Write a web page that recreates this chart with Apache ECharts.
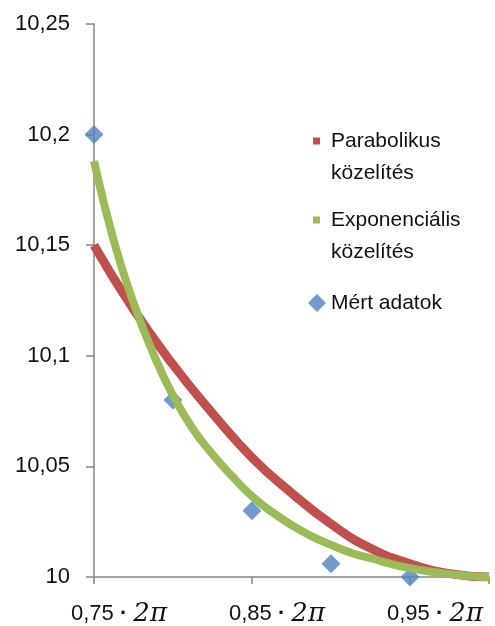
<!DOCTYPE html>
<html>
<head>
<meta charset="utf-8">
<title>Parabolikus és exponenciális közelítés</title>
<script src="https://cdn.jsdelivr.net/npm/echarts@6/dist/echarts.min.js"></script>
<style>
  html, body { margin: 0; padding: 0; background: #fff; }
  #chart { width: 495px; height: 626px; }
</style>
</head>
<body>
<div id="chart"></div>
<script>
// x értékek (a 2π szorzója)
var parabX = [0.75, 0.775, 0.8, 0.825, 0.85, 0.875, 0.9, 0.925, 0.95, 0.975, 1.0];
var parabY = [10.150, 10.121, 10.096, 10.074, 10.054, 10.038, 10.024, 10.013, 10.006, 10.0015, 10.0];

var expX = [0.75, 0.7625, 0.775, 0.7875, 0.8, 0.8125, 0.825, 0.8375, 0.85, 0.8625, 0.875,
            0.8875, 0.9, 0.9125, 0.925, 0.9375, 0.95, 0.9625, 0.975, 0.9875, 1.0];
var expY = [10.188, 10.152, 10.124, 10.101, 10.082, 10.067, 10.0555, 10.0455, 10.0365, 10.0295, 10.0235,
            10.0185, 10.0145, 10.011, 10.0085, 10.006, 10.004, 10.0025, 10.0013, 10.0005, 10.0];

var mertX = [0.75, 0.8, 0.85, 0.9, 0.95];
var mertY = [10.2, 10.08, 10.03, 10.006, 10.0];

var xTicks = [0.75, 0.85, 0.95];
var xTickLabels = ["0,75", "0,85", "0,95"];

var nevParab = "Parabolikus\nközelítés";
var nevExp = "Exponenciális\nközelítés";
var nevMert = "Mért adatok";

function pairs(xs, ys) {
  return xs.map(function (x, i) { return [x, ys[i]]; });
}

var font = "Liberation Sans";
var axisColor = "#868686";

// az első (üres) sor miatt a jelölő a szöveg első sorához igazodik
var legendText = { fontFamily: font, fontSize: 21, color: "#111", lineHeight: 32, padding: [0, 0, 0, 6] };

var chart = echarts.init(document.getElementById("chart"));
chart.setOption({
  animation: false,
  color: ["#C0504D", "#9BBB59", "#4F81BD"],
  grid: { left: 94, right: 6, top: 24, bottom: 49, containLabel: false, outerBoundsMode: "none" },
  legend: [
    {
      data: [{ name: nevParab, icon: "rect" }],
      left: 313, top: 93, padding: 0,
      itemWidth: 7, itemHeight: 7,
      selectedMode: false,
      formatter: function (name) { return " \n" + name; },
      textStyle: legendText
    },
    {
      data: [{ name: nevExp, icon: "rect" }],
      left: 313, top: 172, padding: 0,
      itemWidth: 7, itemHeight: 7,
      selectedMode: false,
      formatter: function (name) { return " \n" + name; },
      textStyle: legendText
    },
    {
      data: [{ name: nevMert, icon: "diamond" }],
      left: 308, top: 287, padding: 0,
      itemWidth: 18, itemHeight: 18,
      selectedMode: false,
      textStyle: { fontFamily: font, fontSize: 21, color: "#111", lineHeight: 32 }
    }
  ],
  xAxis: {
    type: "value",
    min: 0.75,
    max: 1.0,
    interval: 0.1,
    splitLine: { show: false },
    axisLine: { lineStyle: { color: axisColor, width: 1.5 } },
    axisTick: { length: 7, lineStyle: { color: axisColor, width: 1.5 } },
    axisLabel: {
      margin: 24,
      color: "#111",
      padding: [0, 0, 0, 50],
      formatter: function (v) {
        for (var i = 0; i < xTicks.length; i++) {
          if (Math.abs(v - xTicks[i]) < 1e-6) {
            return "{n|" + xTickLabels[i] + "}{d| · }{m|2π}";
          }
        }
        return "";
      },
      rich: {
        n: { fontFamily: font, fontSize: 22, color: "#111" },
        d: { fontFamily: font, fontSize: 22, color: "#111", fontWeight: "bold" },
        m: { fontFamily: "DejaVu Serif", fontStyle: "italic", fontSize: 26, color: "#111" }
      }
    }
  },
  yAxis: {
    type: "value",
    min: 10,
    max: 10.25,
    interval: 0.05,
    splitLine: { show: false },
    axisLine: { show: true, lineStyle: { color: axisColor, width: 1.5 } },
    axisTick: { show: true, length: 8, lineStyle: { color: axisColor, width: 1.5 } },
    axisLabel: {
      margin: 24,
      fontFamily: font,
      fontSize: 22,
      color: "#111",
      formatter: function (v) {
        var r = Math.round(v * 100) / 100;
        return String(r).replace(".", ",");
      }
    }
  },
  series: [
    {
      name: nevParab,
      type: "line",
      data: pairs(parabX, parabY),
      smooth: true,
      showSymbol: false,
      lineStyle: { width: 9, cap: "butt" }
    },
    {
      name: nevExp,
      type: "line",
      data: pairs(expX, expY),
      smooth: true,
      showSymbol: false,
      lineStyle: { width: 8, cap: "butt" }
    },
    {
      name: nevMert,
      type: "scatter",
      data: pairs(mertX, mertY),
      symbol: "diamond",
      symbolSize: 19
    }
  ]
});
</script>
</body>
</html>
